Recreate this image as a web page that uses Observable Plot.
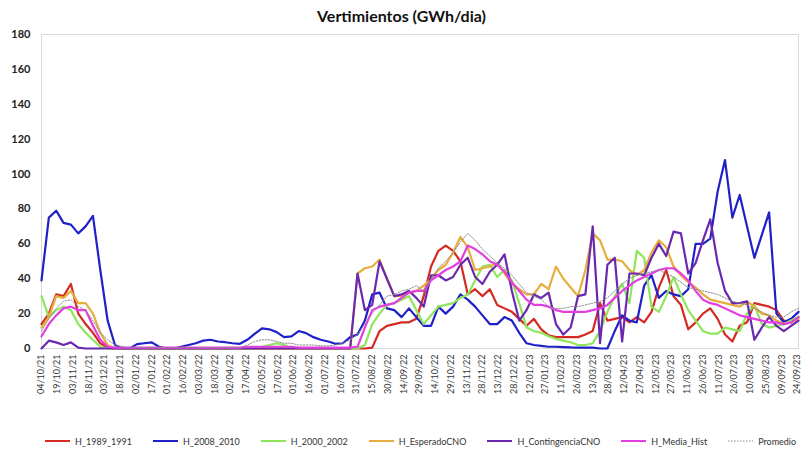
<!DOCTYPE html>
<html>
<head>
<meta charset="utf-8">
<script src="https://cdn.jsdelivr.net/npm/d3@7"></script>
<script src="https://cdn.jsdelivr.net/npm/@observablehq/plot@0.6"></script>
<style>
  body { margin: 0; background: #fff; font-family: Lato, "Open Sans", sans-serif; }
  #title { height: 26px; line-height: 31px; text-align: center; font-weight: bold; font-size: 16px; color: #111; }
  #legend { display: flex; align-items: center; height: 34px; margin-top: 8px; padding-left: 45px; font-size: 9px; color: #333; white-space: nowrap; }
  .item { display: flex; align-items: center; margin-right: 21px; }
  .item:last-child { margin-right: 0; }
  .item svg { margin-right: 5px; }
  g[aria-label="y-axis tick label"] { font-weight: bold; font-size: 11px; fill: #222; }
  g[aria-label="x-axis tick label"] { fill: #333; }
</style>
</head>
<body>
<div id="title">Vertimientos (GWh/dia)</div>
<div id="chart"></div>
<div id="legend"></div>
<script>
// ---- Data (weekly values starting 04/10/21) ----
const startDate = "2021-10-04";
const endDate = "2023-09-25";

const seriesNames = ["H_1989_1991", "H_2008_2010", "H_2000_2002", "H_EsperadoCNO", "H_ContingenciaCNO", "H_Media_Hist", "Promedio"];

const h1989_1991 = [14,20,31,30,37,20,14,9,3,0.5,
 0,0,0,0,0,0,0,0,0,0,
 0,0,0,0,0,0,0,0,0,0,
 0,0,0,0,0,0,0,0,0,0,
 0,0,0,0,0,0.5,10,13,14,15,
 15,17,30,47,56,59,56,50,31,34,
 30,34,25,23,21,17,13,17,11,7.5,
 6.5,6.5,6.5,6.5,8,10,26,16,17,18,
 15,18,15,21,35,45,30,25,11,15,
 20,23,17,8,4,13,15,26,25,24,
 22,16,15,18];

const h2008_2010 = [39,75,79,72,71,66,70,76,45,16,
 2,0,0,2.5,3,3.5,1,0,0,1,
 2,3,4.5,5,4,3.6,3,2.7,5,8.4,
 11.5,11,9.4,6.5,7,10,8.8,6.5,5,4,
 2.7,3,6.5,8,16,31,32,23,22,18,
 23,18,13,13,24,20,24,31,28,24,
 19,14,14,18,16,9,3,2,1.5,1,
 1,0.8,0.6,0.5,0.5,0.5,0,0,10,19,
 16,15,36,42,29,33,31,30,34,60,
 60,63,90,108,75,88,70,52,65,78,
 20,15,17,21];

const h2000_2002 = [30,18,22,24,22,14,9,5,1,0,
 0,0,0,0,0,0,0,0,0,0,
 0,0,0,0,0,0,0,0,0,0,
 1,2,3,2,0,0,0,0,0,0,
 0,0,0,0,2,14,20,25,26,28,
 30,22,14,19,24,25,26,29,31,39,
 47,48,41,45,39,26,12,10,9,7,
 5.5,4.5,3.6,2,2,3,10,21,30,37,
 26,56,52,24,21,30,41,31,22,16,
 10,8.5,8.5,12,11,10,20,25,14,12,
 13,14,16,18];

const hEsperadoCNO = [12,18,30,29,33,26,26,20,9,2,
 0,0,0,0,0,0,0,0,0,0,
 0,0,0,0,0,0,0,0,0,0,
 0,0,0,0,0,0,0,0,0,0,
 0,0,0,43,46,47,51,40,30,30,
 32,33,36,40,45,48,55,64,58,45,
 46,47,49,43,37,34,31,31,37,34,
 47,40,35,30,45,66,62,51,51,50,
 45,42,45,55,62,58,47,42,38,35,
 31,28,27,26,25,24,27,24,20,19,
 16,14,15,17];

const hContingenciaCNO = [0,4.5,3.5,2,3.5,0.5,0,0,0,0,
 0,0,0,0,0,0,0,0,0,0,
 0,0,0,0,0,0,0,0,0,0,
 0,0,0,0,0,0,0,0,0,0,
 0,0,0,43,22,25,50,40,30,31,
 33,29,24,42,42,39,41,48,52,41,
 37,44,48,54,33,16,22,31,29,32,
 14,8,12,30,31,70,3,48,52,4,
 43,43,42,52,60,53,67,66,43,49,
 62,74,49,33,26,26,27,5,12,18,
 13,10,13,16];

const hMediaHist = [7,14,19,23,24,22,22,13,5,1,
 0.5,0.5,0.5,0.5,0.5,0.5,0.5,0.5,0.5,0.5,
 0.5,0.5,0.5,0.5,0.5,0.5,0.5,0.5,1,1,
 1,1,1,1,1,0.5,0.5,0.5,0.5,0.5,
 0.5,0.5,0.5,1,12,22,24,25,26,29,
 32,33,33,39,42,45,47,50,59,57,
 54,50,48,44,38,33,28,25,25,24,
 22,21,21,21,21,22,23,25,29,33,
 36,39,41,43,45,46,46,43,39,33,
 28,26,25,23,21,19,18,17,16,15,
 15,14,15,18];

const promedio = [10,17,23,27,28,24,22,16,9,5,
 2,1,0.5,0.5,0.5,0.5,0.5,0.5,0.5,0.5,
 0.5,0.5,0.5,0.5,0.5,0.5,0.5,0.5,2,4,
 5,5,4,3,3,2,2,2,1.5,1.5,
 2,3,5,8,14,20,25,30,31,33,
 34,36,33,40,46,50,55,61,66,62,
 57,53,49,46,42,37,32,30,28,24,
 23,23,24,24,25,26,27,29,33,37,
 40,42,43,44,45,43,41,38,35,34,
 33,32,31,29,27,26,25,23,21,19,
 18,18,21,23];

const xTickLabels = ["04/10/21","19/10/21","03/11/21","18/11/21","03/12/21","18/12/21","02/01/22","17/01/22","01/02/22","16/02/22","03/03/22","18/03/22","02/04/22","17/04/22","02/05/22","17/05/22","01/06/22","16/06/22","01/07/22","16/07/22","31/07/22","15/08/22","30/08/22","14/09/22","29/09/22","14/10/22","29/10/22","13/11/22","28/11/22","13/12/22","28/12/22","12/01/23","27/01/23","11/02/23","26/02/23","13/03/23","28/03/23","12/04/23","27/04/23","12/05/23","27/05/23","11/06/23","26/06/23","11/07/23","26/07/23","10/08/23","25/08/23","09/09/23","24/09/23"];

const yTicks = [0,20,40,60,80,100,120,140,160,180];

// ---- Styles ----
const colors = ["#d42a22", "#2020c8", "#8fe65c", "#e8ae3c", "#6a28b0", "#e23ee2", "#8a8a8a"];
const allSeries = [h1989_1991, h2008_2010, h2000_2002, hEsperadoCNO, hContingenciaCNO, hMediaHist, promedio];

const parse = d3.utcParse("%d/%m/%y");
const start = d3.utcParse("%Y-%m-%d")(startDate);
const end = d3.utcParse("%Y-%m-%d")(endDate);
const tickDates = xTickLabels.map(parse);

const tables = allSeries.map((vals, s) => vals.map((v, i) => ({date: d3.utcDay.offset(start, 7 * i), value: v, series: seriesNames[s]})));

const lineMarks = tables.map((t, s) => Plot.line(t, {
  x: "date", y: "value",
  stroke: colors[s],
  strokeWidth: s === 6 ? 1 : 2.2,
  strokeDasharray: s === 6 ? "1.5,1.5" : null
}));

const chart = Plot.plot({
  width: 803,
  height: 390,
  marginLeft: 41,
  marginRight: 5,
  marginTop: 8,
  marginBottom: 68,
  style: {fontFamily: "Lato, 'Open Sans', sans-serif", fontSize: "9px", background: "white", color: "#333"},
  x: {type: "utc", domain: [start, end]},
  y: {domain: [0, 180]},
  marks: [
    Plot.frame({stroke: "#d9d9d9"}),
    Plot.axisY({ticks: yTicks, tickSize: 0, tickPadding: 11, label: null}),
    Plot.axisX({ticks: tickDates, tickFormat: d => xTickLabels[tickDates.findIndex(t => +t === +d)], tickRotate: -90, tickSize: 0, tickPadding: 6, label: null}),
    ...lineMarks
  ]
});
document.getElementById("chart").appendChild(chart);

// ---- Legend ----
const legend = d3.select("#legend");
seriesNames.forEach((name, s) => {
  const item = legend.append("div").attr("class", "item");
  const sw = item.append("svg").attr("width", 25).attr("height", 10);
  sw.append("line").attr("x1", 0).attr("x2", 25).attr("y1", 5).attr("y2", 5)
    .attr("stroke", colors[s]).attr("stroke-width", s === 6 ? 1 : 2)
    .attr("stroke-dasharray", s === 6 ? "1.5,1.5" : null);
  item.append("span").text(name);
});
</script>
</body>
</html>
